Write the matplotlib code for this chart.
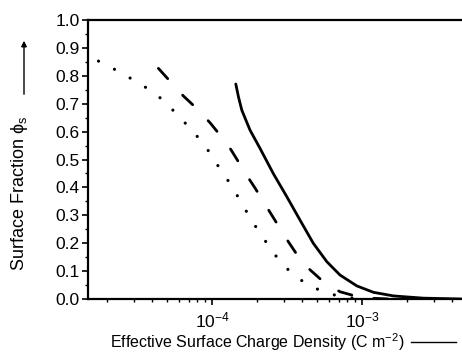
import matplotlib
matplotlib.use("Agg")
import matplotlib.pyplot as plt
from matplotlib.ticker import LogLocator, MultipleLocator, NullFormatter

plt.rcParams['font.family'] = ['Liberation Sans', 'DejaVu Sans']
plt.rcParams['mathtext.fontset'] = 'custom'
plt.rcParams['mathtext.rm'] = 'Liberation Sans'
plt.rcParams['mathtext.it'] = 'Liberation Sans'
plt.rcParams['mathtext.fallback'] = 'stixsans'

# dotted curve
dot_x = [1.75e-5, 2.25e-5, 2.87e-5, 3.71e-5, 4.73e-5, 5.96e-5, 7.50e-5, 9.08e-5,
         1.07e-4, 1.27e-4, 1.48e-4, 1.70e-4, 1.99e-4, 2.32e-4, 2.77e-4, 3.48e-4,
         4.40e-4, 5.66e-4, 7.33e-4, 9.0e-4, 1.1e-3]
dot_y = [0.853, 0.823, 0.791, 0.755, 0.713, 0.657, 0.600, 0.546,
         0.486, 0.427, 0.369, 0.313, 0.253, 0.200, 0.142, 0.086,
         0.050, 0.023, 0.008, 0.002, 0.0]

# dashed curve
dash_x = [4.39e-5, 6.44e-5, 7.91e-5, 9.70e-5, 1.13e-4, 1.32e-4, 1.50e-4, 1.70e-4,
          1.94e-4, 2.20e-4, 2.50e-4, 2.84e-4, 3.23e-4, 3.76e-4, 4.39e-4, 5.52e-4,
          7.13e-4, 8.97e-4, 1.13e-3, 1.5e-3]
dash_y = [0.827, 0.728, 0.683, 0.632, 0.588, 0.540, 0.492, 0.444,
          0.397, 0.349, 0.301, 0.253, 0.205, 0.152, 0.110, 0.062,
          0.026, 0.011, 0.003, 0.0]

# solid curve
solid_x = [1.44e-4, 1.50e-4, 1.58e-4, 1.79e-4, 2.09e-4, 2.56e-4, 3.15e-4, 3.86e-4,
           4.73e-4, 5.82e-4, 7.13e-4, 9.23e-4, 1.19e-3, 1.62e-3, 2.56e-3, 4.6e-3]
solid_y = [0.771, 0.725, 0.677, 0.606, 0.540, 0.450, 0.367, 0.283,
           0.200, 0.134, 0.086, 0.047, 0.024, 0.011, 0.003, 0.0]

fig = plt.figure(figsize=(4.62, 3.53), dpi=100)
ax = fig.add_axes([0.1905, 0.153, 0.8095, 0.79])

ax.plot(solid_x, solid_y, color='black', lw=2.0, solid_capstyle='round')
ax.plot(dash_x, dash_y, color='black', lw=2.0, dashes=(5.0, 8.0), dash_capstyle='round')
ax.plot(dot_x, dot_y, color='black', lw=2.3, dashes=(0.01, 5.6), dash_capstyle='round')

ax.set_xscale('log')
ax.set_xlim(1.49e-5, 4.64e-3)
ax.set_ylim(0, 1.0)

ax.yaxis.set_major_locator(MultipleLocator(0.1))
ax.yaxis.set_minor_locator(MultipleLocator(0.05))
ax.xaxis.set_major_locator(LogLocator(base=10))
ax.xaxis.set_minor_locator(LogLocator(base=10, subs=range(2, 10)))
ax.xaxis.set_minor_formatter(NullFormatter())
ax.yaxis.set_major_formatter(plt.FuncFormatter(lambda v, p: f'{v:.1f}'))

ax.tick_params(which='major', direction='out', length=4, width=1.2, labelsize=12.5, pad=2)
ax.tick_params(which='minor', direction='out', length=2.5, width=1.0)
ax.tick_params(axis='x', which='major', pad=4)

for s in ['left', 'top', 'bottom']:
    ax.spines[s].set_linewidth(1.6)
ax.spines['right'].set_visible(False)

fig.text(20 / 462, 1 - 271 / 353, 'Surface Fraction $\\mathregular{\u03d5}_\\mathregular{s}$',
         rotation=90, ha='center', va='bottom', fontsize=13)
fig.patches.append(matplotlib.patches.FancyArrowPatch(
    (24 / 462, 1 - 97 / 353), (24 / 462, 1 - 38 / 353), transform=fig.transFigure,
    arrowstyle='-|>', mutation_scale=8, color='black', lw=1.0))

fig.text(257 / 462, 1 - 342 / 353, 'Effective Surface Charge Density (C m$^{-2}$)',
         ha='center', va='center', fontsize=11.5)
fig.add_artist(plt.Line2D([411 / 462, 456 / 462], [1 - 342 / 353, 1 - 342 / 353],
                          transform=fig.transFigure, color='black', lw=1.0))

fig.savefig('out.png', dpi=100)
